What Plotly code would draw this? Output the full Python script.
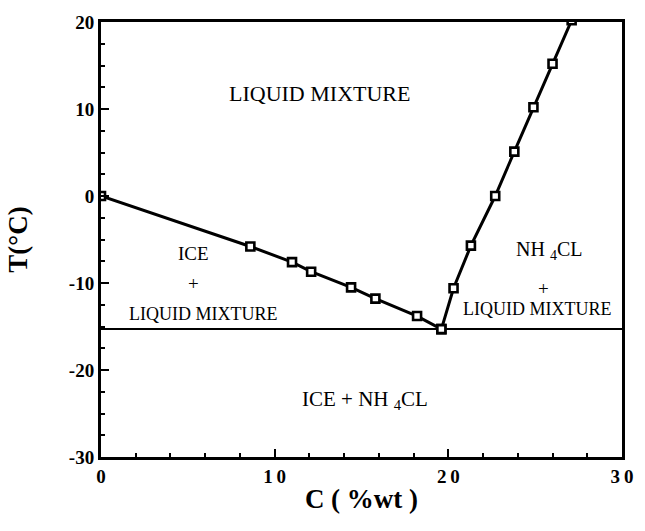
import plotly.graph_objects as go

# Liquidus data: ice branch and NH4Cl branch
ice_c = [0.0, 8.6, 11.0, 12.1, 14.4, 15.8, 18.2, 19.6]
ice_t = [0.0, -5.8, -7.6, -8.7, -10.5, -11.8, -13.8, -15.3]
salt_c = [19.6, 20.3, 21.3, 22.7, 23.8, 24.9, 26.0, 27.1]
salt_t = [-15.3, -10.6, -5.7, 0.0, 5.1, 10.2, 15.2, 20.2]
eutectic_t = -15.3
x_ticks = [0, 10, 20, 30]
y_ticks = [-30, -20, -10, 0, 10, 20]

SERIF = "Liberation Serif, Times New Roman, serif"
marker = dict(symbol="square", size=8, color="white", line=dict(color="black", width=2.6))

fig = go.Figure()
fig.add_trace(go.Scatter(x=[0, 30], y=[eutectic_t, eutectic_t], mode="lines",
                         line=dict(color="black", width=2), showlegend=False))
fig.add_trace(go.Scatter(x=ice_c, y=ice_t, mode="lines+markers",
                         line=dict(color="black", width=3), marker=marker, showlegend=False))
fig.add_trace(go.Scatter(x=salt_c, y=salt_t, mode="lines+markers",
                         line=dict(color="black", width=3), marker=marker, showlegend=False))

# region labels: (x, y, text, font size)
labels = [
    (12.6, 11.8, "LIQUID MIXTURE", 22),
    (5.3, -6.6, "ICE", 19),
    (5.3, -10.0, "+", 19),
    (5.9, -13.6, "LIQUID MIXTURE", 18),
    (25.8, -6.3, "NH <sub>4</sub>CL", 20),
    (25.5, -10.6, "+", 19),
    (25.1, -13.0, "LIQUID MIXTURE", 18),
    (15.2, -23.5, "ICE + NH <sub>4</sub>CL", 21),
]
for x, y, t, s in labels:
    fig.add_annotation(x=x, y=y, text=t, showarrow=False,
                       font=dict(family=SERIF, size=s, color="black"))

tick_font = dict(family=SERIF, size=19, color="black", weight=700)
axis_common = dict(showline=True, linewidth=3, linecolor="black", mirror=True,
                   ticks="inside", ticklen=8, tickwidth=2, tickcolor="black",
                   showgrid=False, zeroline=False, tickfont=tick_font)

fig.update_xaxes(range=[0, 30], tickvals=x_ticks,
                 ticktext=["<b>" + "\u2009".join(str(v)) + "</b>" for v in x_ticks],
                 minor=dict(dtick=2, ticks="inside", ticklen=4, tickwidth=2, tickcolor="black"),
                 title=dict(text="C ( %wt )", standoff=4,
                            font=dict(family=SERIF, size=27, color="black", weight=700)),
                 **axis_common)
fig.update_yaxes(range=[-30, 20], tickvals=y_ticks,
                 ticktext=["<b>" + str(v) + "</b>" for v in y_ticks],
                 minor=dict(dtick=2.5, ticks="inside", ticklen=4, tickwidth=2, tickcolor="black"),
                 title=dict(text="T(°C)", standoff=34,
                            font=dict(family=SERIF, size=27, color="black", weight=700)),
                 **axis_common)

fig.update_layout(width=645, height=531, margin=dict(l=101, r=13, t=14, b=74),
                  plot_bgcolor="white", paper_bgcolor="white",
                  font=dict(family=SERIF, color="black"))

fig.write_html("out.html")
